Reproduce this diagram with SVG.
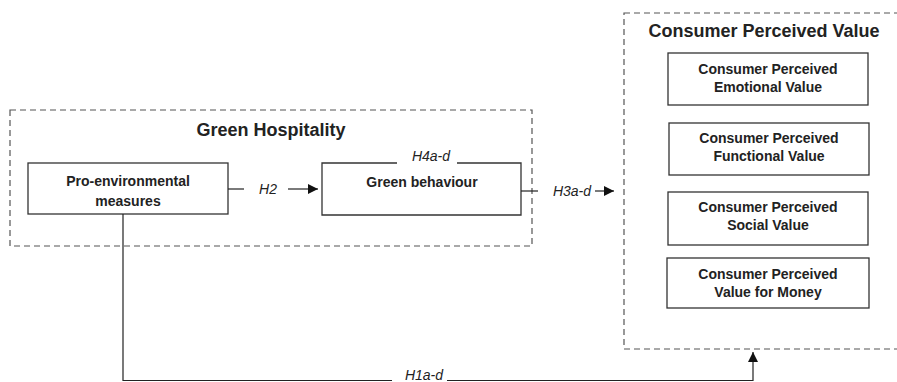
<svg xmlns="http://www.w3.org/2000/svg" width="897" height="382" viewBox="0 0 897 382">
<defs>
<style>
.grp{fill:none;stroke:#555;stroke-width:1.2;stroke-dasharray:6 4}
.box{fill:#fff;stroke:#333;stroke-width:1.3}
.title{font-family:"Liberation Sans",Arial,sans-serif;font-weight:bold;font-size:18px;fill:#222;text-anchor:middle}
.lbl{font-family:"Liberation Sans",Arial,sans-serif;font-weight:bold;font-size:14px;fill:#222;text-anchor:middle}
.hyp{font-family:"Liberation Sans",Arial,sans-serif;font-style:italic;font-size:14px;fill:#222;text-anchor:middle}
.ln{fill:none;stroke:#222;stroke-width:1.2}
</style>
<marker id="ah" viewBox="0 0 10 10" refX="10" refY="5" markerWidth="10" markerHeight="10" markerUnits="userSpaceOnUse" orient="auto">
<path d="M0,0 L10,5 L0,10 Z" fill="#111"/>
</marker>
</defs>
<rect width="897" height="382" fill="#fff"/>
<g id="green-hospitality">
<rect class="grp" x="10" y="110" width="522" height="136"/>
<text class="title" x="271" y="136">Green Hospitality</text>
</g>
<g id="consumer-perceived-value">
<rect class="grp" x="624" y="13" width="290" height="336"/>
<text class="title" x="764" y="37">Consumer Perceived Value</text>
</g>
<g id="pro-environmental">
<rect class="box" x="28" y="163" width="200" height="51"/>
<text class="lbl" x="128" y="186">Pro-environmental</text>
<text class="lbl" x="128" y="206">measures</text>
</g>
<g id="green-behaviour">
<path class="box" d="M397,163 L322,163 L322,215 L521,215 L521,163 L457,163"/>
<text class="lbl" x="422" y="187">Green behaviour</text>
</g>
<g id="emotional">
<rect class="box" x="668" y="53" width="200" height="52"/>
<text class="lbl" x="768" y="74">Consumer Perceived</text>
<text class="lbl" x="768" y="92">Emotional Value</text>
</g>
<g id="functional">
<rect class="box" x="669" y="123" width="200" height="52"/>
<text class="lbl" x="769" y="143">Consumer Perceived</text>
<text class="lbl" x="769" y="161">Functional Value</text>
</g>
<g id="social">
<rect class="box" x="668" y="192" width="200" height="53"/>
<text class="lbl" x="768" y="212">Consumer Perceived</text>
<text class="lbl" x="768" y="230">Social Value</text>
</g>
<g id="money">
<rect class="box" x="667" y="258" width="202" height="50"/>
<text class="lbl" x="768" y="279">Consumer Perceived</text>
<text class="lbl" x="768" y="297">Value for Money</text>
</g>
<g id="connectors">
<line class="ln" x1="228" y1="189" x2="244" y2="189"/>
<line class="ln" x1="288" y1="189" x2="318" y2="189" marker-end="url(#ah)"/>
<text class="hyp" x="268" y="194">H2</text>
<text class="hyp" x="431" y="161">H4a-d</text>
<line class="ln" x1="521" y1="191" x2="538" y2="191"/>
<line class="ln" x1="595" y1="191" x2="614" y2="191" marker-end="url(#ah)"/>
<text class="hyp" x="572" y="196">H3a-d</text>
<polyline class="ln" points="123,214 123,380.5 392,380.5"/>
<polyline class="ln" points="447,380.5 753,380.5 753,352" marker-end="url(#ah)"/>
<text class="hyp" x="424" y="380">H1a-d</text>
</g>
</svg>
